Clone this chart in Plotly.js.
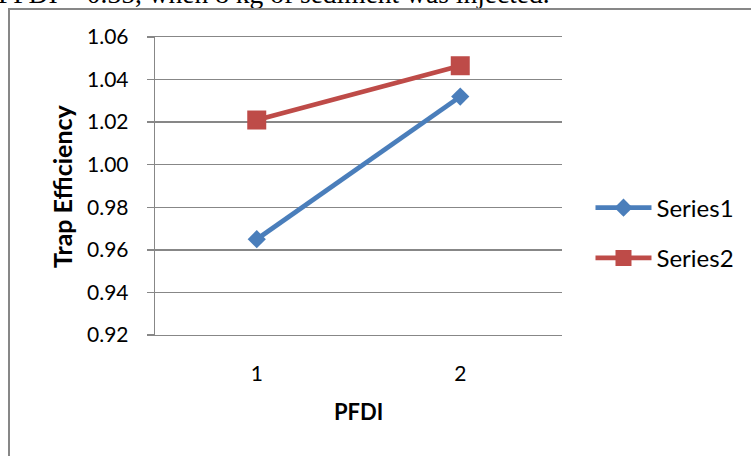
<!DOCTYPE html>
<html>
<head>
<meta charset="utf-8">
<script src="https://cdn.plot.ly/plotly-3.0.1.min.js"></script>
<style>
  html, body { margin: 0; padding: 0; background: #ffffff; }
  #page { position: relative; width: 751px; height: 456px; overflow: hidden; background: #ffffff; }
  #caption {
    position: absolute; left: -2px; top: -22px; white-space: nowrap;
    font-family: "Liberation Serif", "DejaVu Serif", serif; font-size: 27.5px; color: #000;
  }
  #frame {
    position: absolute; left: 8px; top: 8px; width: 800px; height: 500px;
    border-left: 2px solid #878787; border-top: 2px solid #878787;
  }
  #chart { position: absolute; left: 0; top: 0; width: 751px; height: 456px; }
</style>
</head>
<body>
<div id="page">
  <div id="caption">PFDI = 0.35, when 8 kg of sediment was injected.</div>
  <div id="frame"></div>
  <div id="chart"></div>
</div>
<script>
// Trap efficiency for the two PFDI settings
const categories = ["1", "2"];
const series1 = [0.965, 1.032];
const series2 = [1.021, 1.0465];
const seriesNames = ["Series1", "Series2"];
const yTickValues = [0.92, 0.94, 0.96, 0.98, 1.00, 1.02, 1.04, 1.06];
const yTickLabels = ["0.92", "0.94", "0.96", "0.98", "1.00", "1.02", "1.04", "1.06"];

const font = "Lato, 'Open Sans', sans-serif";
const gridGray = "#878787";

const traces = [
  {
    x: categories, y: series1, name: seriesNames[0], legendgroup: "a",
    type: "scatter", mode: "lines+markers",
    line: { color: "#4a7ebb", width: 4.8 },
    marker: { symbol: "diamond", size: 14, color: "#4a7ebb" }
  },
  {
    x: categories, y: series2, name: seriesNames[1], legendgroup: "b",
    type: "scatter", mode: "lines+markers",
    line: { color: "#be4b48", width: 4.8 },
    marker: { symbol: "square", size: 19, color: "#be4b48" }
  }
];

const layout = {
  width: 751, height: 456,
  margin: { l: 155, r: 189, t: 37, b: 121 },
  paper_bgcolor: "rgba(0,0,0,0)",
  plot_bgcolor: "rgba(0,0,0,0)",
  font: { family: font, size: 21, color: "#000" },
  showlegend: true,
  legend: {
    x: 1.07, xanchor: "left", y: 0.342, yanchor: "middle",
    font: { family: font, size: 24, color: "#000" },
    traceorder: "grouped", tracegroupgap: 16,
    itemwidth: 56, bgcolor: "rgba(0,0,0,0)"
  },
  xaxis: {
    type: "category", range: [-0.5, 1.5],
    showgrid: false, zeroline: false,
    showline: true, mirror: true, linecolor: gridGray, linewidth: 1.3,
    ticks: "", ticklabelstandoff: 19,
    tickfont: { family: font, size: 21 }
  },
  yaxis: {
    range: [0.92, 1.06], tickvals: yTickValues, ticktext: yTickLabels,
    showgrid: true, gridcolor: gridGray, gridwidth: 1.3,
    zeroline: false, showline: true, linecolor: gridGray, linewidth: 1.3,
    ticks: "outside", ticklen: 7, tickcolor: gridGray, tickwidth: 1.3,
    ticklabelstandoff: 14,
    tickfont: { family: font, size: 21 }
  },
  annotations: [
    {
      text: "<b>Trap Efficiency</b>", xref: "paper", yref: "paper",
      x: 0, y: 0.5, xshift: -93, textangle: -90,
      xanchor: "center", yanchor: "middle", showarrow: false,
      font: { family: font, size: 25, color: "#000" }
    },
    {
      text: "<b>PFDI</b>", xref: "paper", yref: "paper",
      x: 0.5, y: 0, yshift: -76,
      xanchor: "center", yanchor: "middle", showarrow: false,
      font: { family: font, size: 22, color: "#000" }
    }
  ]
};

Plotly.newPlot("chart", traces, layout, { displayModeBar: false, staticPlot: true });
</script>
</body>
</html>
